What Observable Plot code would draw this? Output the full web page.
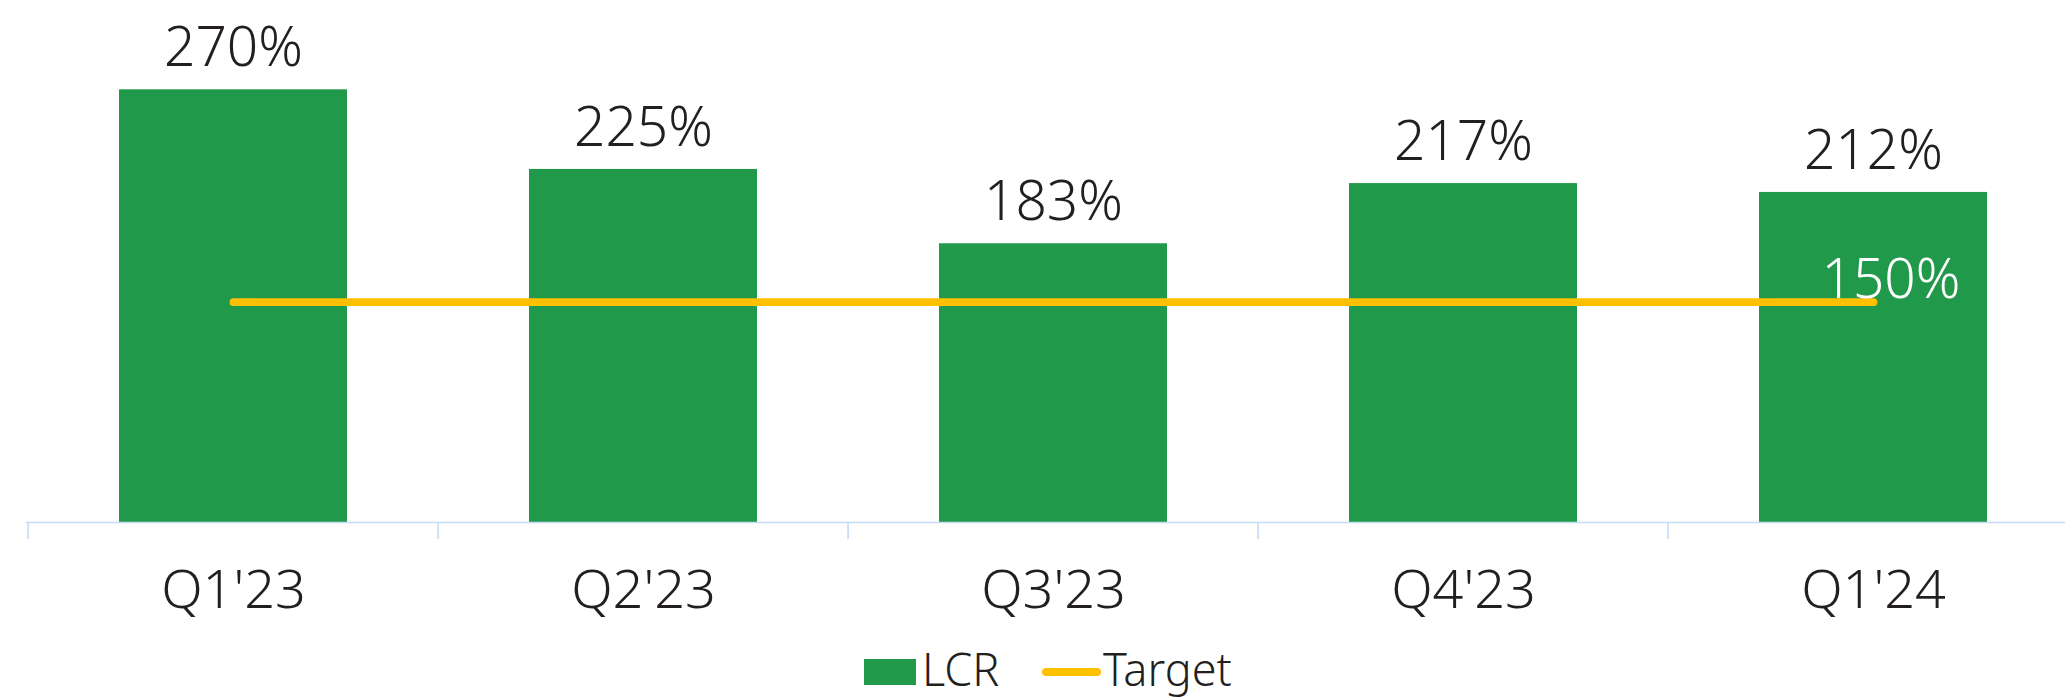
<!DOCTYPE html>
<html>
<head>
<meta charset="utf-8">
<script src="https://cdn.jsdelivr.net/npm/d3@7"></script>
<script src="https://cdn.jsdelivr.net/npm/@observablehq/plot@0.6"></script>
<style>
  html, body { margin: 0; padding: 0; background: #fff; overflow: hidden; }
  #chart svg { display: block; }
  #legend { position: relative; width: 2065px; height: 58px; font-family: 'Noto Sans Light', 'Noto Sans', Roboto, sans-serif; font-weight: 300; color: #231f20; }
  #legend .sw { position: absolute; }
  #legend .lab { position: absolute; font-size: 45px; line-height: 45px; white-space: nowrap; }
</style>
</head>
<body>
<div id="chart"></div>
<div id="legend"></div>
<script>
const categories = ["Q1'23", "Q2'23", "Q3'23", "Q4'23", "Q1'24"];
const lcrValues = [270, 225, 183, 217, 212];
const targetValues = [150, 150, 150, 150, 150];
const seriesNames = ["LCR", "Target"];

const green = "#21994a";
const gold = "#ffc000";
const axisBlue = "#c5dcf7";
const ink = "#231f20";
const yBase = 25.5;
const font = "'Noto Sans Light', 'Noto Sans', Roboto, sans-serif";

const lcrData = categories.map((q, i) => ({q, value: lcrValues[i]}));
const targetData = categories.map((q, i) => ({q, value: targetValues[i]}));

const W = 2065, H = 640;
const xOpts = {type: "band", domain: categories, range: [26, 2080], paddingInner: 0.444, paddingOuter: 0.222, align: 0.5, label: null};
const step = Plot.scale({x: xOpts}).step;

const plot = Plot.plot({
  width: W,
  height: H,
  marginLeft: 26,
  marginRight: 0,
  marginTop: 89.3,
  marginBottom: H - 522,
  style: {fontFamily: font, fontWeight: 300, background: "#fff", overflow: "hidden"},
  x: xOpts,
  y: {domain: [yBase, 270], axis: null},
  marks: [
    Plot.barY(lcrData, {x: "q", y1: yBase, y2: "value", fill: green}),
    Plot.ruleY([yBase], {stroke: axisBlue, strokeWidth: 1.6}),
    Plot.axisX({tickSize: 17, dx: -step / 2, fill: "none", stroke: axisBlue, strokeWidth: 1.6, label: null}),
    Plot.axisX({tickSize: 0, tickPadding: 47, fontSize: 54, fill: ink, label: null}),
    Plot.lineY(targetData, {x: "q", y: "value", stroke: gold, strokeWidth: 7.7, strokeLinecap: "round"}),
    Plot.text(lcrData, {x: "q", y: "value", text: d => d.value + "%", dy: -23.5, lineAnchor: "bottom", fontSize: 55, fill: ink}),
    Plot.text(targetData.slice(-1), {x: "q", y: "value", text: d => d.value + "%", dx: 17.5, dy: -4, lineAnchor: "bottom", fontSize: 55, fill: "#ffffff"})
  ]
});
document.getElementById("chart").appendChild(plot);

// Legend below the chart (HTML)
const lg = d3.select("#legend");
lg.append("div").attr("class", "sw")
  .style("left", "864px").style("top", "19px").style("width", "52px").style("height", "26px").style("background", green);
lg.append("div").attr("class", "lab").style("left", "922px").style("top", "6px").text(seriesNames[0]);
lg.append("div").attr("class", "sw")
  .style("left", "1042px").style("top", "28px").style("width", "59px").style("height", "7.7px")
  .style("border-radius", "4px").style("background", gold);
lg.append("div").attr("class", "lab").style("left", "1103px").style("top", "6px").text(seriesNames[1]);
</script>
</body>
</html>
